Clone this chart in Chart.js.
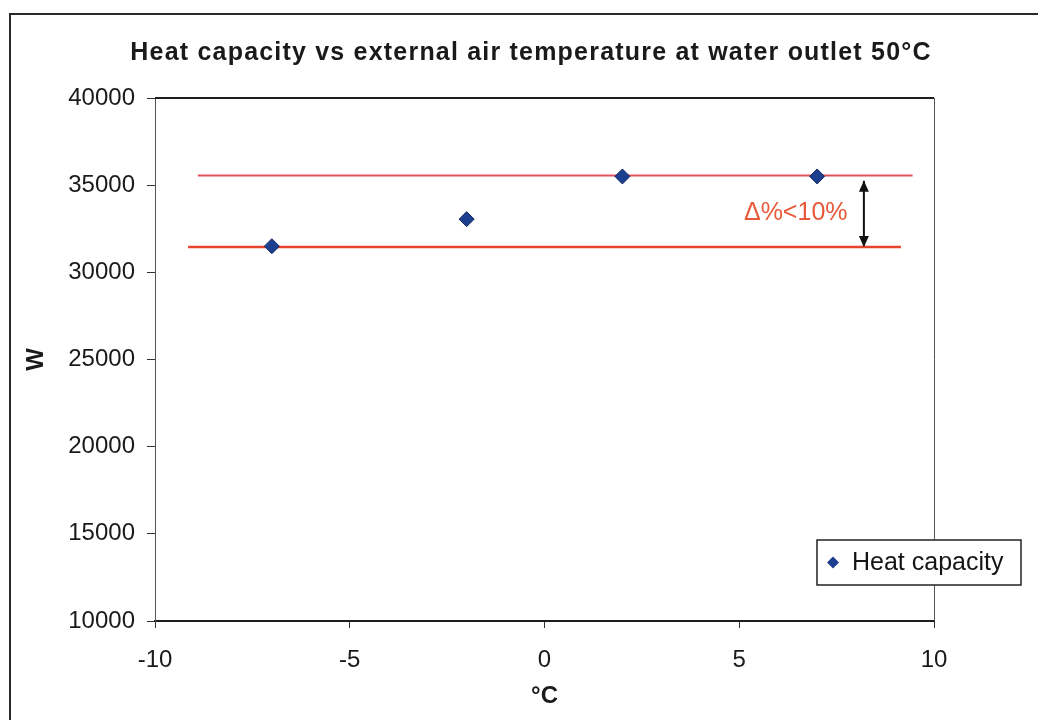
<!DOCTYPE html>
<html>
<head>
<meta charset="utf-8">
<script src="https://cdn.jsdelivr.net/npm/chart.js@4.4.1/dist/chart.umd.min.js"></script>
<style>
  html, body { margin: 0; padding: 0; background: #fff; }
</style>
</head>
<body>
<canvas id="chart" width="1038" height="720"></canvas>
<script>
// measured points
const tempC = [-7, -2, 2, 7];
const heatW = [31500, 33050, 35500, 35500];

// red band lines and the arrow between them
const upperLineX = [-8.9, 9.45];
const upperLineY = [35550, 35550];
const lowerLineX = [-9.15, 9.15];
const lowerLineY = [31450, 31450];
const arrowX = [8.2, 8.2];
const arrowY = [35250, 31450];
const noteText = "Δ%<10%";
const noteAt = [6.45, 33400];

const xTicks = [-10, -5, 0, 5, 10];
const yTicks = [10000, 15000, 20000, 25000, 30000, 35000, 40000];

const titleText = "Heat capacity vs external air temperature at water outlet 50°C";

const FONT = "'Liberation Sans', Arial, sans-serif";
const pts = (xs, ys) => xs.map((x, i) => ({ x, y: ys[i] }));

// white page, outer frame and the spaced-out title
const framePlugin = {
  id: "frame",
  beforeDraw(chart) {
    const { ctx } = chart;
    ctx.save();
    ctx.fillStyle = "#fff";
    ctx.fillRect(0, 0, chart.width, chart.height);
    ctx.strokeStyle = "#2a2a2a";
    ctx.lineWidth = 2;
    ctx.strokeRect(10, 14, chart.width + 20, chart.height + 20);

    ctx.fillStyle = "#1a1a1a";
    ctx.font = "bold 25px " + FONT;
    ctx.letterSpacing = "1.2px";
    ctx.textAlign = "center";
    ctx.textBaseline = "middle";
    ctx.fillText(titleText, 531, 53);
    ctx.restore();
  },
  afterDraw(chart) {
    // top and right edge of the plot box
    const { ctx, chartArea: a } = chart;
    ctx.save();
    ctx.strokeStyle = "#1e1e1e";
    ctx.lineWidth = 2;
    ctx.beginPath();
    ctx.moveTo(a.left, a.top);
    ctx.lineTo(a.right, a.top);
    ctx.stroke();
    ctx.strokeStyle = "#555";
    ctx.lineWidth = 1;
    ctx.beginPath();
    ctx.moveTo(a.right + 0.5, a.top);
    ctx.lineTo(a.right + 0.5, a.bottom);
    ctx.stroke();
    ctx.restore();
  },
};

// arrow heads on both ends of the arrow dataset + the red note
const notePlugin = {
  id: "note",
  afterDatasetsDraw(chart) {
    const { ctx, scales } = chart;
    const [p0, p1] = chart.getDatasetMeta(3).data;
    ctx.save();
    ctx.fillStyle = "#111";
    const head = (p, dir) => {
      ctx.beginPath();
      ctx.moveTo(p.x, p.y);
      ctx.lineTo(p.x - 5, p.y - dir * 11);
      ctx.lineTo(p.x + 5, p.y - dir * 11);
      ctx.closePath();
      ctx.fill();
    };
    head(p0, -1);
    head(p1, 1);
    ctx.fillStyle = "#e8593a";
    ctx.font = "25px " + FONT;
    ctx.textAlign = "center";
    ctx.textBaseline = "middle";
    ctx.fillText(noteText, scales.x.getPixelForValue(noteAt[0]), scales.y.getPixelForValue(noteAt[1]));
    ctx.restore();
  },
};

// boxed legend sitting across the right edge of the plot
const legendBoxPlugin = {
  id: "legendBox",
  afterDraw(chart) {
    const { ctx } = chart;
    const ds = chart.data.datasets[0];
    const x = 817, y = 540, w = 204, h = 45;
    const cy = y + h / 2;
    ctx.save();
    ctx.fillStyle = "#fff";
    ctx.fillRect(x, y, w, h);
    ctx.strokeStyle = "#222";
    ctx.lineWidth = 1.5;
    ctx.strokeRect(x, y, w, h);
    ctx.fillStyle = ds.backgroundColor;
    ctx.beginPath();
    ctx.moveTo(833, cy - 6);
    ctx.lineTo(839, cy);
    ctx.lineTo(833, cy + 6);
    ctx.lineTo(827, cy);
    ctx.closePath();
    ctx.fill();
    ctx.fillStyle = "#151515";
    ctx.font = "25px " + FONT;
    ctx.textBaseline = "middle";
    ctx.fillText(ds.label, 852, cy + 1);
    ctx.restore();
  },
};

new Chart(document.getElementById("chart"), {
  type: "scatter",
  data: {
    datasets: [
      {
        label: "Heat capacity",
        data: pts(tempC, heatW),
        pointStyle: "rectRot",
        pointRadius: 7.5,
        pointHoverRadius: 7.5,
        backgroundColor: "#1d3f8f",
        borderColor: "#12285e",
        borderWidth: 1,
      },
      {
        label: "upper",
        data: pts(upperLineX, upperLineY),
        showLine: true,
        pointRadius: 0,
        borderColor: "#e0525e",
        borderWidth: 2,
      },
      {
        label: "lower",
        data: pts(lowerLineX, lowerLineY),
        showLine: true,
        pointRadius: 0,
        borderColor: "#e6452c",
        borderWidth: 2.5,
      },
      {
        label: "arrow",
        data: pts(arrowX, arrowY),
        showLine: true,
        pointRadius: 0,
        borderColor: "#111",
        borderWidth: 2,
      },
    ],
  },
  options: {
    responsive: false,
    animation: false,
    devicePixelRatio: 1,
    layout: { padding: { left: 22, right: 104, top: 98, bottom: 0 } },
    plugins: {
      legend: { display: false },
      tooltip: { enabled: false },
    },
    scales: {
      x: {
        type: "linear",
        min: xTicks[0],
        max: xTicks[xTicks.length - 1],
        afterBuildTicks: (s) => { s.ticks = xTicks.map((v) => ({ value: v })); },
        afterFit: (s) => { s.height = 99; },
        grid: { drawOnChartArea: false, tickLength: 7, color: "#333" },
        border: { color: "#1e1e1e", width: 2 },
        ticks: { color: "#1a1a1a", font: { family: FONT, size: 24 }, padding: 18, callback: (v) => String(v) },
        title: {
          display: true,
          text: "°C",
          color: "#1a1a1a",
          font: { family: FONT, size: 24, weight: "bold" },
          padding: { top: 0, bottom: 9 },
        },
      },
      y: {
        type: "linear",
        min: yTicks[0],
        max: yTicks[yTicks.length - 1],
        afterBuildTicks: (s) => { s.ticks = yTicks.map((v) => ({ value: v })); },
        afterFit: (s) => { s.width = 133; },
        grid: { drawOnChartArea: false, tickLength: 8, color: "#333" },
        border: { color: "#555", width: 1 },
        ticks: { color: "#1a1a1a", font: { family: FONT, size: 24 }, padding: 12, callback: (v) => String(v) },
        title: {
          display: true,
          text: "W",
          color: "#1a1a1a",
          font: { family: FONT, size: 24, weight: "bold" },
          padding: { top: 0, bottom: 0 },
        },
      },
    },
  },
  plugins: [framePlugin, notePlugin, legendBoxPlugin],
});
</script>
</body>
</html>
